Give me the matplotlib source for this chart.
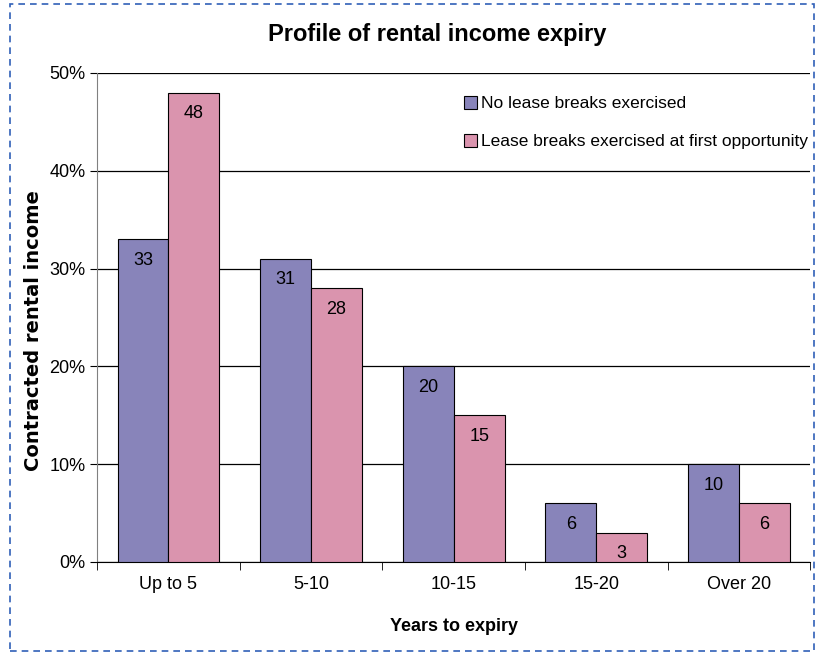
import numpy as np
import matplotlib.pyplot as plt
from matplotlib.patches import Rectangle

categorias = ['Up to 5', '5-10', '10-15', '15-20', 'Over 20']
sin_breaks = [33, 31, 20, 6, 10]
con_breaks = [48, 28, 15, 3, 6]
series = ['No lease breaks exercised', 'Lease breaks exercised at first opportunity']
colores = ['#8884BA', '#DA94AE']

plt.rcParams['font.family'] = ['Liberation Sans Narrow', 'Liberation Sans', 'DejaVu Sans']

fig = plt.figure(figsize=(8.16, 6.54), dpi=100)
ax = fig.add_axes([0.119, 0.1407, 0.874, 0.7477])

x = np.arange(len(categorias))
ancho = 0.357
barras1 = ax.bar(x - ancho / 2, sin_breaks, ancho, color=colores[0], edgecolor='black', linewidth=0.8, label=series[0], zorder=3)
barras2 = ax.bar(x + ancho / 2, con_breaks, ancho, color=colores[1], edgecolor='black', linewidth=0.8, label=series[1], zorder=3)

# etiquetas dentro de las barras
for barras, vals in [(barras1, sin_breaks), (barras2, con_breaks)]:
    for b, v in zip(barras, vals):
        ax.annotate(str(v), (b.get_x() + b.get_width() / 2, v), xytext=(0, -9),
                    textcoords='offset points', ha='center', va='top', fontsize=13, zorder=4)

ax.set_xlim(-0.5, len(categorias) - 0.5)
ax.set_ylim(0, 50)
ax.set_yticks(range(0, 51, 10))
ax.set_yticklabels([f'{v}%' for v in range(0, 51, 10)], fontsize=13)
ax.yaxis.grid(True, color='black', linewidth=0.9, zorder=0)

ax.set_xticks(x)
ax.set_xticklabels(categorias, fontsize=13)
ax.tick_params(axis='x', length=0, pad=10)
ax.set_xticks(np.arange(-0.5, len(categorias)), minor=True)
ax.tick_params(axis='x', which='minor', length=6, color='black')
ax.tick_params(axis='y', length=5, color='black')

for lado in ['top', 'right']:
    ax.spines[lado].set_visible(False)
ax.spines['left'].set_color('#808080')
ax.spines['bottom'].set_color('black')

ax.set_xlabel('Years to expiry', fontsize=13, fontweight='bold', labelpad=18)
ax.set_ylabel('Contracted rental income', fontsize=14, fontweight='bold', family=['DejaVu Sans'])
ax.yaxis.set_label_coords(-0.076, 0.474)
fig.text(0.536, 0.948, 'Profile of rental income expiry', ha='center', va='center', fontsize=17, fontweight='bold')

ax.legend(loc='upper right', bbox_to_anchor=(1.018, 0.985), frameon=False, fontsize=12.5,
          handlelength=0.75, handleheight=0.75, handletextpad=0.2, labelspacing=1.3)

# borde punteado
fig.patches.append(Rectangle((0.0125, 0.004), 0.985, 0.99, transform=fig.transFigure, fill=False,
                             edgecolor='#3060B8', linewidth=1.2, linestyle=(0, (4, 3))))

fig.savefig('out.png', dpi=100)
